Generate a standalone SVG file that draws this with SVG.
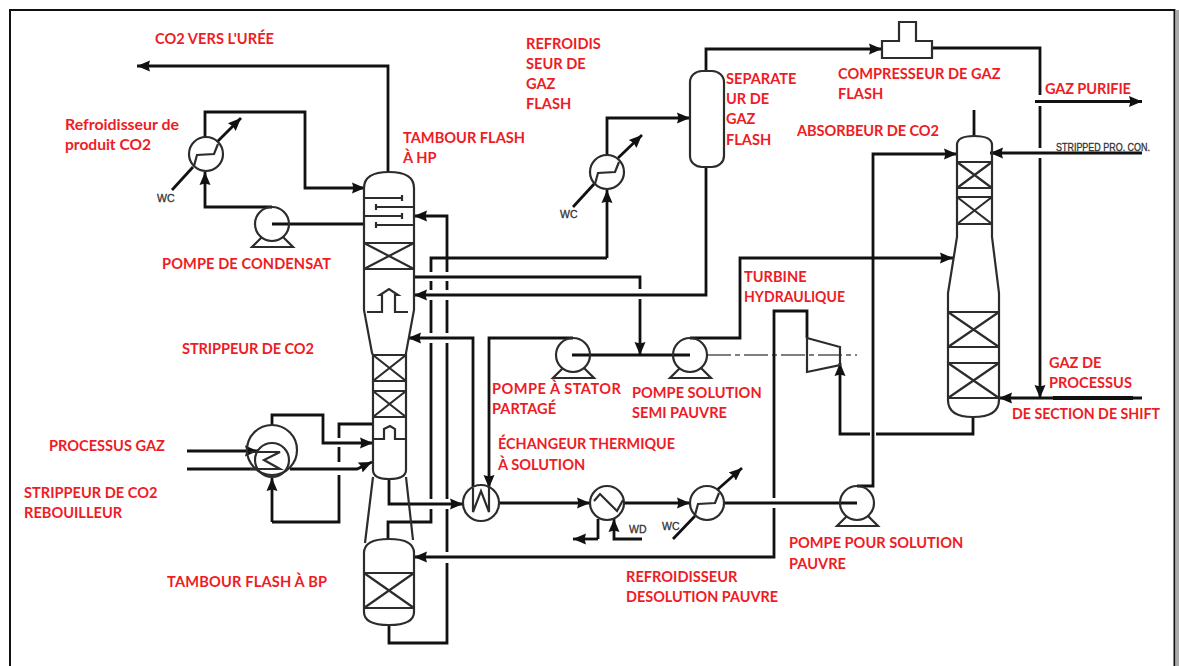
<svg xmlns="http://www.w3.org/2000/svg" width="1179" height="666" viewBox="0 0 1179 666">
<style>
.l{fill:none;stroke:#111;stroke-width:2.800;stroke-linejoin:miter}
.a{marker-end:url(#ah)}
.e{fill:none;stroke:#2c2c2c;stroke-width:2.200}
.t{font-family:"Lato","Open Sans",sans-serif;font-weight:700;font-size:14.6px;fill:#ee1c25}
.s{font-family:"Liberation Sans",sans-serif;font-size:10.500px;fill:#333;stroke:#333;stroke-width:.3}
</style>
<defs>
<marker id="ah" markerUnits="userSpaceOnUse" markerWidth="14" markerHeight="13" refX="13" refY="6.500" orient="auto"><path d="M0,1 L13,6.500 L0,12 L1.500,6.500 Z" fill="#111"/></marker>
<g id="pump"><circle r="17" class="e"/><path class="e" d="M-10,13 L-20,23 H21 L11,13"/></g>
<g id="cooler"><circle r="17" class="e"/><path class="e" d="M-12,12 L-9,1 L8,0 L12,-10"/></g>
</defs>
<rect width="1179" height="666" fill="#fff"/>
<path d="M10,666 V10 H1174.500 V666" fill="none" stroke="#111" stroke-width="2"/>
<rect x="1175.500" y="10" width="3.500" height="656" fill="#aaa"/>

<g id="connectors">
<path class="l a" d="M388,172 V66 H137"/>
<path class="l a" d="M205,137 V112 H305 V188 H365"/>
<path class="l a" d="M272,207 H205 V172"/>
<path class="l" d="M272,224 H364"/>
<path class="l" d="M172,190 L193,167"/>
<path class="l a" d="M217,142 L241,118"/>
<path class="l a" d="M447,246 V216 H414"/>
<path class="l" d="M447,246 V272 M447,281 V290 M447,300 V333 M447,343 V499 M447,509 V552 M447,563 V643 H389 V625"/>
<path class="l" d="M431,272 V258 H607"/>
<path class="l a" d="M607,258 V190"/>
<path class="l" d="M431,281 V290 M431,300 V333 M431,343 V499 M431,509 V522 H388 V539"/>
<path class="l a" d="M607,155 V118 H690"/>
<path class="l" d="M573,207 L595,183"/>
<path class="l a" d="M618,158 L642,135"/>
<path class="l a" d="M706,71 V49 H882"/>
<path class="l" d="M932,48 H1040 V95"/>
<path class="l" d="M1040,106 V148"/>
<path class="l a" d="M1040,158 V398"/>
<path class="l a" d="M1035,101.500 H1142"/>
<path class="l" d="M974,110 V136"/>
<path class="l a" d="M706,167 V295 H414"/>
<path class="l" d="M414,277 H640 V289"/>
<path class="l a" d="M640,299 V355"/>
<path class="l" d="M572,355 H690"/>
<path d="M707,355 H857" fill="none" stroke="#555" stroke-width="1.500" stroke-dasharray="24,4,5,4"/>
<path class="l a" d="M690,338 H740 V258 H953"/>
<path class="l a" d="M573,338 H489 V488"/>
<path class="l a" d="M473,487 V338 H408"/>
<path class="l a" d="M389,479 V504 H463"/>
<path class="l a" d="M499,503 H590"/>
<path class="l" d="M598,519 V539"/>
<path class="l a" d="M598,539 H573"/>
<path class="l a" d="M642,539 H614 V519"/>
<path class="l a" d="M624,503 H690"/>
<path class="l" d="M673,539 L695,516"/>
<path class="l a" d="M717,490 L742,468"/>
<path class="l" d="M724,503 H857"/>
<path class="l a" d="M857,486 H873 V154 H957"/>
<path class="l a" d="M1142,153 H990"/>
<path class="l a" d="M1142,398 H999"/>
<path d="M1053,398 H1133" fill="none" stroke="#111" stroke-width="4"/>
<path class="l" d="M973,417 V434 H876"/>
<path class="l a" d="M870,434 H840 V363"/>
<path class="l" d="M807,338 V311 H774 V498"/>
<path class="l a" d="M774,508 V557 H414"/>
<path class="l a" d="M187,451 H258"/>
<path class="l" d="M187,469 H256"/>
<path class="l a" d="M272,426 V415 H323 V443 H373"/>
<path class="l a" d="M290,469 H357 L372,462"/>
<path class="l" d="M373,424 H339 V438 M339,447 V462 M339,475 V522 H272"/>
<path class="l a" d="M272,522 V478"/>
</g>

<g id="stripper-column">
<path class="e" d="M373,355 L372,353 L364,310 V188 Q364,172 389,172 Q414,172 414,188 V310 L406,353 V470 Q406,479 389,479 Q373,479 373,470 Z M373,477 L365,543 M406,477 L413,540"/>
<path class="e" d="M364,198 H402 M376,207 H414 M364,216 H402 M376,225 H414"/>
<path class="e" d="M402,195 V201 M376,204 V210 M402,213 V219 M376,222 V228"/>
<path class="e" d="M364,243 H414 M364,269 H414 M364,243 L414,269 M414,243 L364,269"/>
<path class="e" d="M367,312 H382 V295 H380 L389,289 L398,295 H395 V312 H408"/>
<path class="e" d="M373,355 H406 M373,381 H406 M373,355 L406,381 M406,355 L373,381"/>
<path class="e" d="M373,391 H406 M373,417 H406 M373,391 L406,417 M406,391 L373,417"/>
<path class="e" d="M373,439 H384 V429 L390,426 L395,429 V439 H406"/>
</g>

<g id="lp-flash-drum">
<path class="e" d="M364,553 Q364,539 389,539 Q414,539 414,553 V612 Q414,625 389,625 Q364,625 364,612 Z"/>
<path class="e" d="M364,573 H414 M364,608 H414 M364,573 L414,608 M414,573 L364,608"/>
</g>

<g id="absorber">
<path class="e" d="M957,145 Q957,136 974,136 Q992,136 992,145 V237 L999,293 V400 Q999,417 973,417 Q948,417 948,400 V293 L957,237 Z"/>
<path class="e" d="M957,162 H992 M957,188 H992 M957,162 L992,188 M992,162 L957,188"/>
<path class="e" d="M957,197 H992 M957,224 H992 M957,197 L992,224 M992,197 L957,224"/>
<path class="e" d="M948,312 H999 M948,347 H999 M948,312 L999,347 M999,312 L948,347"/>
<path class="e" d="M948,363 H999 M948,398 H999 M948,363 L999,398 M999,363 L948,398"/>
</g>

<g id="separator"><rect x="690" y="71" width="34" height="96" rx="12" ry="11" class="e"/></g>
<g id="compressor"><path class="e" d="M882,41 H899 V22 H916 V41 H932 V58 H882 Z"/></g>
<g id="turbine"><path class="e" d="M807,338 L840,347 V365 L807,372 Z"/></g>

<g id="pump-condensate"><use href="#pump" x="272" y="224"/></g>
<g id="pump-split"><use href="#pump" x="573" y="355"/></g>
<g id="pump-semi-lean"><use href="#pump" x="690" y="355"/></g>
<g id="pump-lean"><use href="#pump" x="857" y="503"/></g>
<g id="cooler-product"><use href="#cooler" x="206" y="154"/></g>
<g id="cooler-flash"><use href="#cooler" x="607" y="172"/></g>
<g id="cooler-lean"><use href="#cooler" x="707" y="503"/></g>
<g id="cooler-wd"><circle cx="607" cy="503" r="17" class="e"/><path class="e" d="M594,501 L600,494 L617,511 L623,500"/></g>
<g id="exchanger"><circle cx="481" cy="503" r="18" class="e"/><path class="e" d="M473,488 V512 L481,491 L489,512 V488"/></g>
<g id="reboiler"><circle cx="272" cy="450" r="25" class="e"/><circle cx="272" cy="460" r="17" class="e"/><path class="e" d="M250,452 H280 L264,460 L280,469 H250"/></g>

<g id="small-labels">
<text class="s" x="157" y="202">WC</text>
<text class="s" x="560" y="218">WC</text>
<text class="s" x="662" y="530">WC</text>
<text class="s" x="629" y="533">WD</text>
<text class="s" x="1056" y="151" textLength="94" lengthAdjust="spacingAndGlyphs">STRIPPED PRO. CON.</text>
</g>

<g id="labels">
<text class="t" x="155" y="44" textLength="119">CO2 VERS L'URÉE</text>
<text class="t" x="526" y="49">REFROIDIS</text>
<text class="t" x="526" y="69">SEUR DE</text>
<text class="t" x="526" y="89">GAZ</text>
<text class="t" x="526" y="109">FLASH</text>
<text class="t" x="726" y="84">SEPARATE</text>
<text class="t" x="726" y="104">UR DE</text>
<text class="t" x="726" y="124">GAZ</text>
<text class="t" x="726" y="145">FLASH</text>
<text class="t" x="838" y="79">COMPRESSEUR DE GAZ</text>
<text class="t" x="838" y="99">FLASH</text>
<text class="t" x="1045" y="94" textLength="86">GAZ PURIFIE</text>
<text class="t" x="797" y="136" textLength="142">ABSORBEUR DE CO2</text>
<text class="t" x="65" y="130" textLength="114" lengthAdjust="spacingAndGlyphs">Refroidisseur de</text>
<text class="t" x="65" y="150" textLength="86" lengthAdjust="spacingAndGlyphs">produit CO2</text>
<text class="t" x="403" y="143">TAMBOUR FLASH</text>
<text class="t" x="403" y="163">À HP</text>
<text class="t" x="162" y="269" textLength="169">POMPE DE CONDENSAT</text>
<text class="t" x="744" y="282">TURBINE</text>
<text class="t" x="744" y="302" textLength="101" lengthAdjust="spacingAndGlyphs">HYDRAULIQUE</text>
<text class="t" x="182" y="354" textLength="132">STRIPPEUR DE CO2</text>
<text class="t" x="492" y="394" textLength="129">POMPE À STATOR</text>
<text class="t" x="492" y="414">PARTAGÉ</text>
<text class="t" x="632" y="398">POMPE SOLUTION</text>
<text class="t" x="632" y="418">SEMI PAUVRE</text>
<text class="t" x="1049" y="368">GAZ DE</text>
<text class="t" x="1049" y="388">PROCESSUS</text>
<text class="t" x="1012" y="419" textLength="148" lengthAdjust="spacingAndGlyphs">DE SECTION DE SHIFT</text>
<text class="t" x="49" y="451">PROCESSUS GAZ</text>
<text class="t" x="498" y="449" textLength="177" lengthAdjust="spacingAndGlyphs">ÉCHANGEUR THERMIQUE</text>
<text class="t" x="498" y="470">À SOLUTION</text>
<text class="t" x="24" y="498">STRIPPEUR DE CO2</text>
<text class="t" x="24" y="518">REBOUILLEUR</text>
<text class="t" x="167" y="587" textLength="160">TAMBOUR FLASH À BP</text>
<text class="t" x="789" y="548">POMPE POUR SOLUTION</text>
<text class="t" x="789" y="569">PAUVRE</text>
<text class="t" x="626" y="582">REFROIDISSEUR</text>
<text class="t" x="626" y="602" textLength="152" lengthAdjust="spacingAndGlyphs">DESOLUTION PAUVRE</text>
</g>
</svg>
